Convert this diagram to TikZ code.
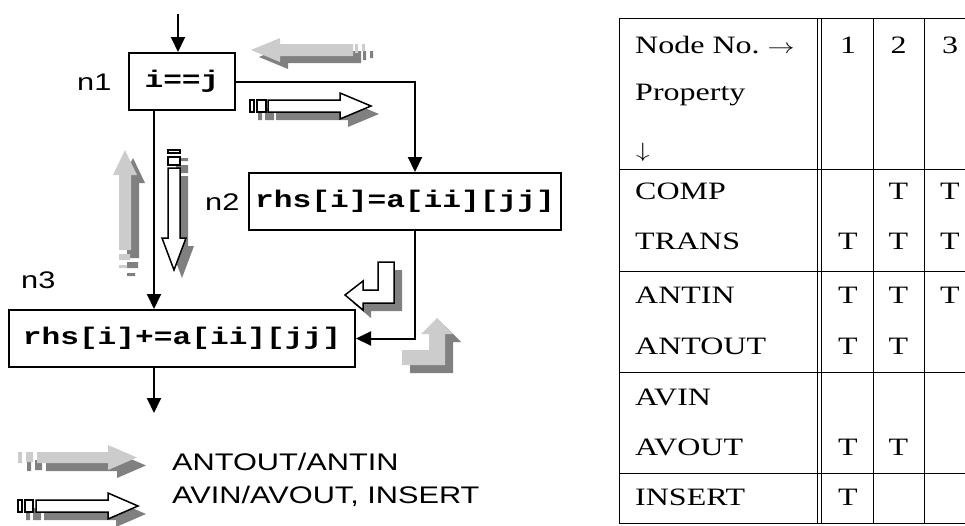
\documentclass[tikz,border=0pt]{standalone}
\usepackage{fontspec}
\usepackage{graphicx}
\usetikzlibrary{arrows.meta,calc}
\newfontfamily\tabfont[FakeStretch=1.28]{Liberation Serif}
\newfontfamily\lblfont[FakeStretch=1.28]{Liberation Sans}
\newfontfamily\codefont[FakeStretch=1.3]{Liberation Mono}
\definecolor{lightg}{RGB}{204,204,204}
\definecolor{darkg}{RGB}{128,128,128}
% fat arrow shapes
\newcommand\shpA{(251,50) -- (280,38) -- (280,44) -- (353,44) -- (353,56) -- (280,56) -- (280,62) -- cycle
  (355,44) rectangle (358,53) (362,44) rectangle (365,51)}
\newcommand\shpB{(268,100) -- (340,100) -- (340,93) -- (371,106) -- (340,119) -- (340,112) -- (268,112) -- cycle}
\newcommand\recB{(250,100) rectangle (254,112) (257,100) rectangle (266,112)}
\newcommand\shpC{(125,150) -- (137,175) -- (131,175) -- (131,250) -- (119,250) -- (119,175) -- (113,175) -- cycle
  (119,254) rectangle (130,260) (119,265) rectangle (127,268)}
\newcommand\shpD{(168,168) -- (180,168) -- (180,238) -- (186,238) -- (174,270) -- (162,238) -- (168,238) -- cycle}
\newcommand\recD{(168,150) rectangle (180,153) (168,157) rectangle (180,165)}
\newcommand\shpE{(378,262) -- (394,262) -- (394,303) -- (363,303) -- (363,310) -- (345,295) -- (363,281) -- (363,290) -- (378,290) -- cycle}
\newcommand\shpF{(402,350) -- (429,350) -- (429,334) -- (421,334) -- (437,318) -- (453,334) -- (445,334) -- (445,365) -- (402,365) -- cycle}
\newcommand\shpL{(37,452) -- (108,452) -- (108,445) -- (137,457.5) -- (108,470) -- (108,463) -- (37,463) -- cycle
  (18,452) rectangle (22,463) (26,452) rectangle (33,462)}
\newcommand\shpM{(36,500) -- (108,500) -- (108,493) -- (138,506) -- (108,519) -- (108,512) -- (36,512) -- cycle}
\newcommand\recM{(18,500) rectangle (22,512) (25,500) rectangle (33,512)}
\begin{document}
\begin{tikzpicture}[x=1pt,y=-1pt,
  box/.style={draw, line width=2pt, minimum height=57pt, inner sep=0pt,
    font=\codefont\bfseries\fontsize{24}{24}\selectfont},
  flow/.style={line width=2pt, -{Triangle[length=15pt,width=14pt]}},
  lightf/.style={fill=lightg, draw=none},
  darkf/.style={fill=darkg, draw=none},
  hollow/.style={fill=white, draw=black, line width=1.5pt},
  tline/.style={line width=1pt},
  ttext/.style={font=\tabfont\fontsize{25}{25}\selectfont, inner sep=0pt},
  lbl/.style={font=\lblfont\fontsize{24}{24}\selectfont, inner sep=0pt}]
\useasboundingbox (0,0) rectangle (965,525);

% ---- shaded property arrows ----
\begin{scope}[shift={(8,7)}] \fill[darkf] \shpA; \end{scope}
\fill[lightf] \shpA;
\begin{scope}[shift={(8,8)}] \fill[darkf] \shpB; \fill[darkf] \recB; \end{scope}
\filldraw[hollow] \shpB;
\filldraw[hollow] \recB;
\begin{scope}[shift={(8,8)}] \fill[darkf] \shpC; \end{scope}
\fill[lightf] \shpC;
\begin{scope}[shift={(8,8)}] \fill[darkf] \shpD; \fill[darkf] \recD; \end{scope}
\filldraw[hollow] \shpD;
\filldraw[hollow] \recD;
\begin{scope}[shift={(8,8)}] \fill[darkf] \shpE; \end{scope}
\filldraw[hollow, line join=miter] \shpE;
\begin{scope}[shift={(8,8)}] \fill[darkf] \shpF; \end{scope}
\fill[lightf] \shpF;
\begin{scope}[shift={(9,8)}] \fill[darkf] \shpL; \end{scope}
\fill[lightf] \shpL;
\begin{scope}[shift={(8,8)}] \fill[darkf] \shpM; \fill[darkf] \recM; \end{scope}
\filldraw[hollow] \shpM;
\filldraw[hollow] \recM;

% ---- flow graph ----
\node[box, minimum width=106pt] (n1) at (182,81.5) {i==j};
\node[box, minimum width=312pt] (n2) at (405,201.5) {rhs[i]=a[ii][jj]};
\node[box, minimum width=346pt] (n3) at (182,338.5) {rhs[i]+=a[ii][jj]};
\node[lbl, anchor=base west] (ln1) at (77,90) {n1};
\node[lbl, anchor=base west] (ln2) at (205,210) {n2};
\node[lbl, anchor=base west] (ln3) at (21,288) {n3};

\coordinate (top) at (178,14);
\coordinate (cr) at (415,0);
\coordinate (cl) at (154,0);
\coordinate (bot) at (154,413);
\draw[flow] (top) -- (top |- n1.north);
\draw[flow] (n1.east) -| (cr |- n2.north);
\draw[flow] (cl |- n1.south) -- (cl |- n3.north);
\draw[flow] (cr |- n2.south) |- (n3.east);
\draw[flow] (cl |- n3.south) -- (bot);

% legend
\node[lbl, anchor=base west] (leg1) at (172,470) {ANTOUT/ANTIN};
\node[lbl, anchor=base west] (leg2) at (172,503) {AVIN/AVOUT, INSERT};

% ---- table ----
\foreach \yy in {18,169,271,372,473,523.5} \draw[tline] (619,\yy) -- (965,\yy);
\foreach \xx in {619,817,821,873,924} \draw[tline] (\xx,18) -- (\xx,524);

\node[ttext, anchor=base west] (h0) at (635,53) {Node No.\ \fontsize{21}{21}\selectfont\scalebox{1.3}[1]{$\rightarrow$}};
\node[ttext, anchor=base west] (h1) at (635,100) {Property};
\node[ttext, anchor=base west] (h2) at (636,157) {\fontsize{21}{21}\selectfont\scalebox{1.3}[1]{$\downarrow$}};
\node[ttext, anchor=base] (c1) at (848,53) {1};
\node[ttext, anchor=base] (c2) at (898.5,53) {2};
\node[ttext, anchor=base] (c3) at (950,53) {3};

\node[ttext, anchor=base west] (r1) at (635,199) {COMP};
\node[ttext, anchor=base west] (r2) at (635,249) {TRANS};
\node[ttext, anchor=base west] (r3) at (635,303) {ANTIN};
\node[ttext, anchor=base west] (r4) at (635,354) {ANTOUT};
\node[ttext, anchor=base west] (r5) at (635,405) {AVIN};
\node[ttext, anchor=base west] (r6) at (635,455) {AVOUT};
\node[ttext, anchor=base west] (r7) at (635,505) {INSERT};

\node[ttext, anchor=base] (t12) at (898.5,199) {T};
\node[ttext, anchor=base] (t13) at (950,199) {T};
\node[ttext, anchor=base] (t21) at (848,249) {T};
\node[ttext, anchor=base] (t22) at (898.5,249) {T};
\node[ttext, anchor=base] (t23) at (950,249) {T};
\node[ttext, anchor=base] (t31) at (848,303) {T};
\node[ttext, anchor=base] (t32) at (898.5,303) {T};
\node[ttext, anchor=base] (t33) at (950,303) {T};
\node[ttext, anchor=base] (t41) at (848,354) {T};
\node[ttext, anchor=base] (t42) at (898.5,354) {T};
\node[ttext, anchor=base] (t61) at (848,455) {T};
\node[ttext, anchor=base] (t62) at (898.5,455) {T};
\node[ttext, anchor=base] (t71) at (848,505) {T};
\end{tikzpicture}
\end{document}
